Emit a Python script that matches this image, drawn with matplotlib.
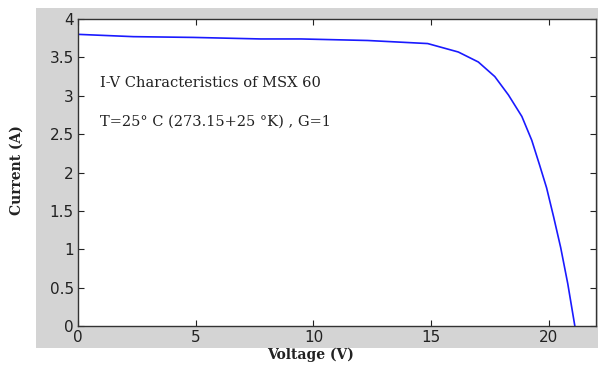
import matplotlib
matplotlib.use("Agg")
import matplotlib.pyplot as plt
from matplotlib.patches import Rectangle

# I-V curve of MSX 60
voltage = [0.0, 2.35, 4.9, 7.76, 9.47, 12.3, 14.85, 16.15, 17.0, 17.7, 18.28,
           18.85, 19.27, 19.6, 19.9, 20.2, 20.5, 20.8, 21.1]
current = [3.80, 3.77, 3.76, 3.74, 3.74, 3.72, 3.68, 3.57, 3.44, 3.25, 3.01,
           2.73, 2.42, 2.10, 1.80, 1.42, 1.02, 0.55, 0.0]

xticks = [0, 5, 10, 15, 20]
yticks = [0, 0.5, 1, 1.5, 2, 2.5, 3, 3.5, 4]
ytick_labels = ["0", "0.5", "1", "1.5", "2", "2.5", "3", "3.5", "4"]

fig = plt.figure(figsize=(6.02, 3.74), dpi=100)
fig.patch.set_facecolor("white")

# grey MATLAB-style figure panel, kept behind the axes
panel = Rectangle((0.0598, 0.0695), 0.9336, 0.909, transform=fig.transFigure,
                  facecolor="#d4d4d4", edgecolor="none", zorder=-5)
fig.add_artist(panel)

ax = fig.add_axes([0.1296, 0.1283, 0.8605, 0.8209])
ax.set_zorder(1)
ax.set_facecolor("white")
ax.plot(voltage, current, color="#1a1aff", lw=1.2)

ax.set_xlim(0, 22)
ax.set_ylim(0, 4)
ax.set_xticks(xticks)
ax.set_yticks(yticks)
ax.set_yticklabels(ytick_labels)
ax.tick_params(direction="in", top=True, right=True, length=4, width=0.8,
               labelsize=11, colors="#222222", pad=3)
for s in ax.spines.values():
    s.set_linewidth(1.0)
    s.set_color("#333333")

ax.text(0.94, 3.17, "I-V Characteristics of MSX 60", family="serif",
        fontsize=10.5, color="#222222", va="center")
ax.text(0.94, 2.66, "T=25\u00b0 C (273.15+25 \u00b0K) , G=1", family="serif",
        fontsize=10.5, color="#222222", va="center")

fig.text(0.515, 0.05, "Voltage (V)", family="serif", fontweight="bold",
         fontsize=10, ha="center", va="center", color="#222222")
fig.text(0.027, 0.545, "Current (A)", family="serif", fontweight="bold",
         fontsize=10, ha="center", va="center", rotation=90, color="#222222")

fig.savefig("out.png", dpi=100, facecolor=fig.get_facecolor())
